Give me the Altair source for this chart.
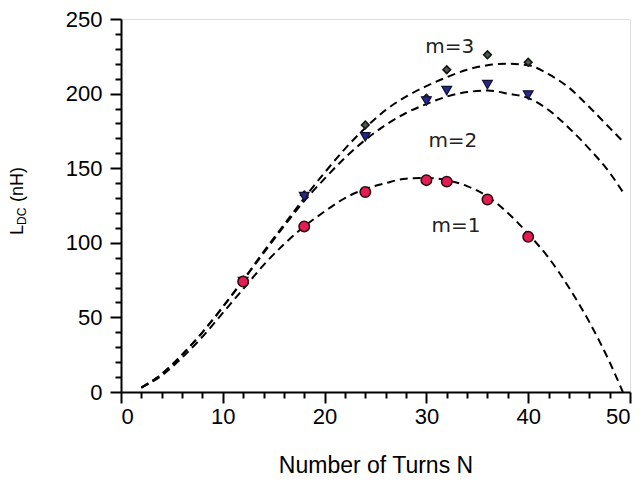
import altair as alt
import pandas as pd

# ---- measured points ----
N_pts = [12, 18, 24, 30, 32, 36, 40]
L_m1 = [74, 111, 134, 142, 141, 129, 104]
L_m2 = [74, 131, 171, 195, 202, 206, 199]
L_m3 = [75, 132, 179, 197, 216, 226, 221]

# ---- dashed model curves ----
N_curve = [2, 4, 6, 8, 10, 12, 14, 16, 18, 20, 22, 24, 26, 28, 30, 32, 34, 36, 38, 40, 42, 44, 46, 48, 49.3]
C_m1 = [3, 11, 23, 37, 53, 69, 85, 99, 111, 121, 130, 136, 140, 143, 143.5, 142, 138, 131, 120, 106, 90, 70, 47, 20, 0]
C_m2 = [3, 12, 25, 40, 57, 75, 93, 111, 128, 143, 157, 169, 179, 187, 193, 198, 201, 202, 200, 197, 189, 177, 163, 147, 134]
C_m3 = [3, 12, 25, 40, 57, 75, 94, 112, 130, 147, 163, 177, 189, 198, 205, 211, 216, 219, 220, 219, 213, 204, 191, 177, 168]

# ---- annotations ----
ann_text = ["m=3", "m=2", "m=1"]
ann_N = [32.3, 32.6, 32.9]
ann_L = [231, 168, 111]

x_ticks = list(range(0, 51, 2))
y_ticks = list(range(0, 251, 10))

curves = pd.DataFrame({
    "N": N_curve * 3,
    "L": C_m1 + C_m2 + C_m3,
    "m": ["m1"] * len(N_curve) + ["m2"] * len(N_curve) + ["m3"] * len(N_curve),
})
p1 = pd.DataFrame({"N": N_pts, "L": L_m1})
p2 = pd.DataFrame({"N": N_pts, "L": L_m2})
p3 = pd.DataFrame({"N": N_pts, "L": L_m3})
ann = pd.DataFrame({"t": ann_text, "N": ann_N, "L": ann_L})

FONT = "Liberation Sans"

x_enc = alt.X(
    "N:Q",
    scale=alt.Scale(domain=[0, 50], nice=False),
    axis=alt.Axis(
        values=x_ticks,
        tickCount=200,
        format="d",
        labelExpr="datum.value % 10 === 0 ? datum.label : ''",
        labelOverlap=False,
        tickSize={"condition": {"test": "datum.value % 10 === 0", "value": 11}, "value": 6},
        labelPadding=3,
        labelFontSize=22,
        labelFont=FONT,
        labelColor="black",
        tickColor="black",
        tickWidth=2,
        domainColor="black",
        domainWidth=2,
        grid=False,
        title="Number of Turns N",
        titleFont=FONT,
        titleFontSize=23,
        titleFontWeight="normal",
        titleColor="black",
        titleBaseline="middle",
        titleY=73,
    ),
)
y_enc = alt.Y(
    "L:Q",
    scale=alt.Scale(domain=[0, 250], nice=False),
    axis=alt.Axis(
        values=y_ticks,
        tickCount=200,
        format="d",
        labelExpr="datum.value % 50 === 0 ? datum.label : ''",
        labelOverlap=False,
        tickSize={"condition": {"test": "datum.value % 50 === 0", "value": 11}, "value": 6},
        labelPadding=8,
        labelFontSize=22,
        labelFont=FONT,
        labelColor="black",
        tickColor="black",
        tickWidth=2,
        domainColor="black",
        domainWidth=2,
        grid=False,
        title=None,
    ),
)

lines = alt.Chart(curves).mark_line(
    color="black", strokeDash=[8, 5], strokeWidth=2, interpolate="monotone"
).encode(x=x_enc, y=y_enc, detail="m:N")

dia = alt.Chart(p3).mark_point(
    shape="diamond", filled=True, fill="#4b5a4b", stroke="#111111", strokeWidth=1.5, size=60, opacity=1
).encode(x="N:Q", y="L:Q")

tri = alt.Chart(p2).mark_point(
    shape="triangle-down", filled=True, fill="#26268c", stroke="#101030", strokeWidth=1.2, size=95, opacity=1
).encode(x="N:Q", y="L:Q")

circ = alt.Chart(p1).mark_point(
    shape="circle", filled=True, fill="#e31c52", stroke="#2b0a10", strokeWidth=1.5, size=110, opacity=1
).encode(x="N:Q", y="L:Q")

labels = alt.Chart(ann).mark_text(
    font="DejaVu Sans", fontSize=20, color="#222222", align="center", baseline="middle"
).encode(x="N:Q", y="L:Q", text="t:N")

ytitle_L = alt.Chart(pd.DataFrame({"t": ["L"]})).mark_text(
    font=FONT, fontSize=18, angle=270, align="left", baseline="middle", color="black"
).encode(text="t:N", x=alt.value(-103), y=alt.value(216))
ytitle_DC = alt.Chart(pd.DataFrame({"t": ["DC"]})).mark_text(
    font=FONT, fontSize=12, angle=270, align="left", baseline="middle", color="black"
).encode(text="t:N", x=alt.value(-99), y=alt.value(206))
ytitle_nH = alt.Chart(pd.DataFrame({"t": ["(nH)"]})).mark_text(
    font=FONT, fontSize=18, angle=270, align="left", baseline="middle", color="black"
).encode(text="t:N", x=alt.value(-103), y=alt.value(183))

chart = alt.layer(lines, dia, tri, circ, labels, ytitle_L, ytitle_DC, ytitle_nH).properties(
    width=509,
    height=373,
    autosize="none",
    padding={"left": 113, "top": 11, "right": 5, "bottom": 88},
).configure_view(stroke=None).configure(background="white")

chart.save("out.html", embed_options={"renderer": "svg", "actions": False})
